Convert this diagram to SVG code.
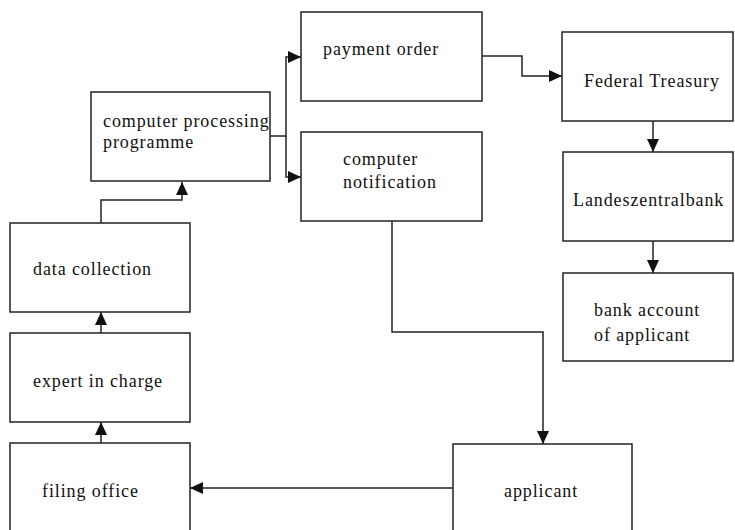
<svg xmlns="http://www.w3.org/2000/svg" width="735" height="530" viewBox="0 0 735 530">
<style>
.box{fill:#fff;stroke:#222;stroke-width:1.5}
.lbl{font-family:"Liberation Serif","Times New Roman",serif;font-size:18px;fill:#111;letter-spacing:0.9px}
.con{fill:none;stroke:#222;stroke-width:1.5}
</style>
<defs>
<marker id="ah" markerUnits="userSpaceOnUse" markerWidth="14" markerHeight="12" refX="13" refY="6" orient="auto">
<path d="M0,0 L13,6 L0,12 Z" fill="#111"/>
</marker>
</defs>
<rect width="735" height="530" fill="#fff"/>
<g id="connectors">
<path class="con" d="M101,223 V200 H182 V182" marker-end="url(#ah)"/>
<path class="con" d="M270,136 H286 V57 H301" marker-end="url(#ah)"/>
<path class="con" d="M286,136 V177 H301" marker-end="url(#ah)"/>
<path class="con" d="M482,56 H522 V76 H562" marker-end="url(#ah)"/>
<path class="con" d="M653,121 V152" marker-end="url(#ah)"/>
<path class="con" d="M653,241 V273" marker-end="url(#ah)"/>
<path class="con" d="M392,221 V332 H543 V444" marker-end="url(#ah)"/>
<path class="con" d="M453,488 H190" marker-end="url(#ah)"/>
<path class="con" d="M101,443 V422" marker-end="url(#ah)"/>
<path class="con" d="M101,333 V312" marker-end="url(#ah)"/>
</g>
<g id="computer-processing">
<rect class="box" x="91" y="92" width="179" height="89"/>
<text class="lbl" x="103" y="127">computer processing</text>
<text class="lbl" x="103" y="148">programme</text>
</g>
<g id="payment-order">
<rect class="box" x="301" y="12" width="181" height="89"/>
<text class="lbl" x="323" y="55">payment order</text>
</g>
<g id="computer-notification">
<rect class="box" x="301" y="132" width="181" height="89"/>
<text class="lbl" x="343" y="165">computer</text>
<text class="lbl" x="343" y="188">notification</text>
</g>
<g id="federal-treasury">
<rect class="box" x="562" y="32" width="171" height="89"/>
<text class="lbl" x="584" y="87">Federal Treasury</text>
</g>
<g id="landeszentralbank">
<rect class="box" x="563" y="152" width="170" height="89"/>
<text class="lbl" x="573" y="206">Landeszentralbank</text>
</g>
<g id="bank-account">
<rect class="box" x="563" y="273" width="170" height="88"/>
<text class="lbl" x="594" y="316">bank account</text>
<text class="lbl" x="594" y="341">of applicant</text>
</g>
<g id="data-collection">
<rect class="box" x="10" y="223" width="180" height="89"/>
<text class="lbl" x="33" y="275">data collection</text>
</g>
<g id="expert-in-charge">
<rect class="box" x="10" y="333" width="180" height="89"/>
<text class="lbl" x="33" y="387">expert in charge</text>
</g>
<g id="filing-office">
<rect class="box" x="10" y="443" width="180" height="100"/>
<text class="lbl" x="42" y="497">filing office</text>
</g>
<g id="applicant">
<rect class="box" x="453" y="444" width="179" height="100"/>
<text class="lbl" x="504" y="497">applicant</text>
</g>
</svg>
